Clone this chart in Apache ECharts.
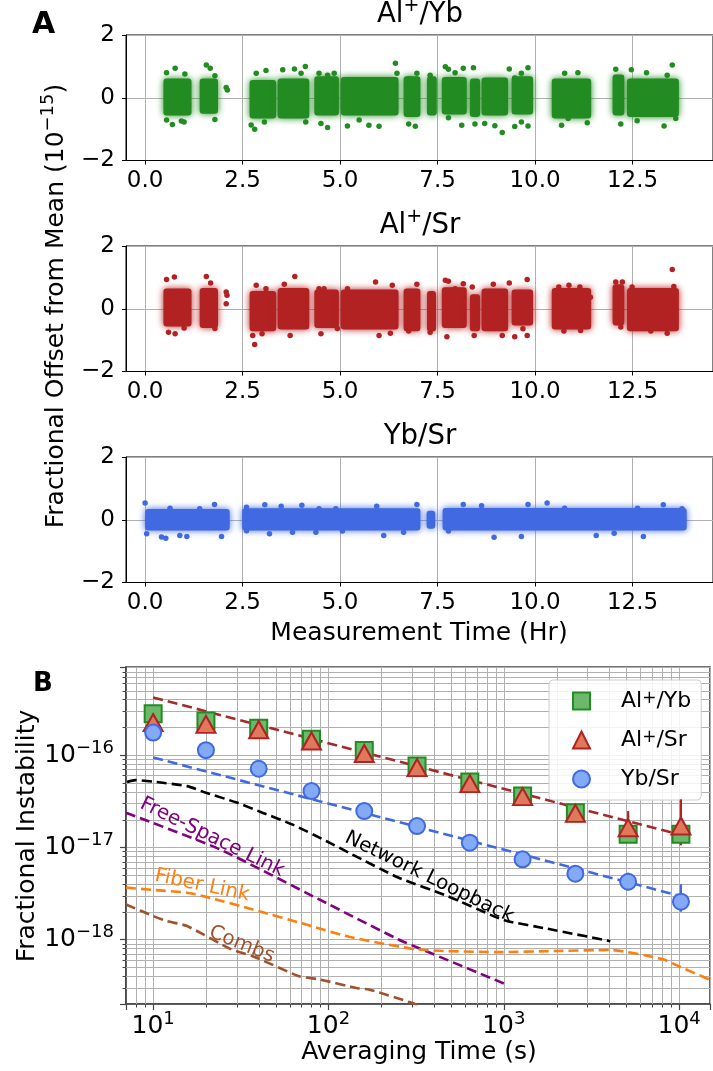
<!DOCTYPE html>
<html lang="en">
<head>
<meta charset="UTF-8">
<title>Clock ratio comparison</title>
<script src="https://cdn.jsdelivr.net/npm/echarts@6.0.0/dist/echarts.min.js"></script>
<style>
    html, body { margin: 0; padding: 0; background: #fff; }
    #main { width: 713px; height: 1071px; }
</style>
</head>
<body>
<div id="main"></div>
<script type="text/javascript">
    // ---------- panel A : ratio offsets vs time (units 1e-15, hours) ----------
    // dense part of each run: [start hr, end hr, low, high]
    var alYbRuns = [
        [0.47, 1.19, -0.5, 0.55], [1.40, 1.87, -0.45, 0.55], [2.68, 3.36, -0.6, 0.5],
        [3.40, 4.21, -0.6, 0.55], [4.34, 4.97, -0.5, 0.62], [5.02, 6.50, -0.5, 0.6],
        [6.63, 7.06, -0.55, 0.62], [7.23, 7.48, -0.5, 0.62], [7.61, 8.25, -0.47, 0.6],
        [8.33, 8.59, -0.55, 0.55], [8.63, 9.31, -0.5, 0.58], [9.40, 9.95, -0.47, 0.62],
        [10.43, 11.44, -0.6, 0.55], [11.99, 12.29, -0.5, 0.68], [12.36, 13.69, -0.55, 0.55]
    ];
    // scattered points outside the dense part: [hr, offset]
    var alYbPoints = [
        [0.55, 0.80], [0.77, 0.94], [1.02, 0.76], [0.55, -0.71], [0.70, -0.85], [0.93, -0.74], [1.0, -0.77],
        [1.57, 1.04], [1.67, 0.94], [1.79, 0.70], [1.79, -0.69], [2.08, 0.33], [2.11, 0.25],
        [2.72, -0.87], [2.81, -1.0], [2.85, 0.78], [3.1, 0.87], [3.53, 0.89], [3.83, 0.92], [4.11, 1.0],
        [4.0, 0.78], [4.46, 0.78], [4.68, 0.72], [4.85, 0.78], [4.51, -0.82], [4.68, -0.95], [5.19, -0.9],
        [4.12, -0.77], [3.06, -0.77], [6.42, 1.10], [6.46, 0.78], [6.0, -0.91], [5.74, -0.88], [5.49, -0.71],
        [6.76, 0.6], [6.97, 0.78], [6.76, -0.84], [6.93, -0.91], [7.31, 0.72], [7.70, 0.99], [7.78, 0.91],
        [7.95, 0.80], [8.16, 0.94], [8.42, 0.96], [8.12, -0.88], [7.78, -0.64], [8.46, -0.84], [8.71, -0.82],
        [8.97, -0.89], [9.16, -1.11], [9.34, 0.92], [9.48, 0.63], [9.65, 0.78], [9.82, 0.96], [9.48, -0.92],
        [9.65, -0.77], [9.82, -0.90], [10.76, 0.78], [11.1, 0.80], [10.68, -0.88], [10.85, -0.66], [11.34, -0.80],
        [12.07, 0.91], [12.47, 0.89], [12.86, 0.80], [13.52, 1.04], [12.20, -0.84], [12.62, -0.73], [13.31, -0.90],
        [13.61, -0.66], [13.39, 0.72]
    ];
    var alSrRuns = [
        [0.47, 1.19, -0.5, 0.58], [1.40, 1.87, -0.55, 0.6], [2.68, 3.36, -0.65, 0.5],
        [3.40, 4.21, -0.6, 0.6], [4.34, 4.97, -0.55, 0.55], [5.02, 6.50, -0.6, 0.55],
        [6.63, 7.06, -0.65, 0.58], [7.23, 7.46, -0.66, 0.5], [7.61, 8.25, -0.55, 0.62],
        [8.33, 8.59, -0.65, 0.4], [8.63, 9.31, -0.65, 0.58], [9.40, 9.95, -0.47, 0.55],
        [10.43, 11.44, -0.6, 0.6], [11.99, 12.29, -0.47, 0.72], [12.36, 13.69, -0.65, 0.6]
    ];
    var alSrPoints = [
        [0.55, 0.93], [0.75, 1.01], [0.6, -0.75], [0.77, -0.8], [1.0, -0.61], [1.57, 1.03], [1.68, 0.82],
        [1.79, -0.63], [2.08, 0.53], [2.1, 0.43], [2.08, 0.16], [2.76, -0.85], [2.81, -1.14], [3.0, -0.8],
        [2.85, 0.75], [3.1, 0.64], [3.57, 0.78], [3.84, 1.03], [3.72, -0.85], [4.46, 0.64], [4.59, 0.64],
        [4.51, -0.8], [4.93, -0.63], [5.19, 0.64], [5.91, 0.85], [6.34, 0.75], [6.97, 0.78], [6.0, -0.85],
        [6.29, -0.78], [6.76, -0.71], [7.31, -0.75], [7.70, 0.91], [7.78, 0.88], [7.95, 0.64], [8.16, 0.8],
        [8.39, 0.69], [8.93, 0.78], [9.34, 0.82], [9.80, 0.93], [7.74, -0.89], [8.44, -0.85], [9.16, -0.85],
        [9.48, -0.89], [9.80, -0.85], [9.69, -0.64], [10.61, 0.69], [10.87, 0.75], [11.15, 0.69], [11.42, 0.37],
        [10.74, -0.71], [11.17, -0.69], [12.07, 0.85], [12.24, 0.85], [12.49, 0.69], [13.52, 1.25], [13.56, 0.71],
        [13.39, -0.78], [12.97, -0.71], [12.2, -0.58]
    ];
    var ybSrRuns = [
        [0.0, 2.17, -0.28, 0.28], [2.49, 7.06, -0.28, 0.3], [7.22, 7.44, -0.22, 0.22], [7.63, 13.89, -0.28, 0.31]
    ];
    var ybSrPoints = [
        [0.0, 0.53], [0.04, -0.45], [0.42, -0.55], [0.53, -0.59], [0.89, -0.5], [1.07, -0.53], [1.78, 0.49],
        [1.96, -0.53], [0.64, 0.37], [1.4, 0.35], [2.6, 0.4], [3.07, 0.48], [3.49, 0.43], [4.02, 0.46],
        [4.46, 0.35], [4.89, 0.35], [2.6, -0.35], [3.19, -0.45], [3.78, -0.4], [4.38, -0.4], [5.06, -0.36],
        [5.94, 0.43], [6.97, 0.49], [6.12, -0.5], [6.63, -0.4], [8.95, -0.56], [8.16, 0.49], [8.63, 0.45],
        [9.82, 0.49], [10.31, 0.53], [11.57, -0.5], [12.03, -0.43], [12.78, -0.53], [13.29, 0.48], [13.77, 0.35],
        [7.78, -0.36], [9.65, -0.53], [10.76, 0.37], [12.63, 0.37]
    ];
    var timeTicks = [0, 2.5, 5, 7.5, 10, 12.5];

    // ---------- panel B : instability vs averaging time ----------
    var tauPts = [10, 20, 40, 80, 160, 320, 640, 1280, 2560, 5120, 10240];
    var alYbDev = [2.81e-16, 2.34e-16, 1.95e-16, 1.48e-16, 1.12e-16, 7.6e-17, 5.1e-17, 3.6e-17, 2.37e-17, 1.38e-17, 1.38e-17];
    var alSrDev = [2.25e-16, 2.15e-16, 1.88e-16, 1.42e-16, 1.04e-16, 7.3e-17, 4.9e-17, 3.54e-17, 2.33e-17, 1.63e-17, 1.7e-17];
    var ybSrDev = [1.75e-16, 1.13e-16, 7.1e-17, 4.07e-17, 2.47e-17, 1.7e-17, 1.12e-17, 7.4e-18, 5.17e-18, 4.23e-18, 2.57e-18];
    // error bars [tau, low, high]
    var alYbErr = [[10240, 1.07e-17, 1.8e-17]];
    var alSrErr = [[5120, 1.25e-17, 2.47e-17], [10240, 1.05e-17, 3.31e-17]];
    var ybSrErr = [[5120, 3.4e-18, 5.3e-18], [10240, 2.0e-18, 3.96e-18]];
    // white-noise fits
    var alFit = [[10, 4.2e-16], [10240, 1.36e-17]];
    var ybFit = [[10, 9.4e-17], [10240, 2.95e-18]];
    // reference noise curves
    var loopTau = [7.1, 7.9, 10, 15.6, 20, 30, 42, 62, 97, 136, 250, 480, 900, 1050, 1770, 4050];
    var loopDev = [5.1e-17, 5.35e-17, 5.15e-17, 4.6e-17, 3.9e-17, 3.05e-17, 2.37e-17, 1.77e-17, 1.17e-17, 8.4e-18, 4.7e-18, 2.95e-18, 1.75e-18, 1.58e-18, 1.31e-18, 9.6e-19];
    var freeTau = [7, 24, 88.5, 251, 326, 1000];
    var freeDev = [2.37e-17, 9.5e-18, 2.72e-18, 1.0e-18, 8.1e-19, 3.34e-19];
    var fiberTau = [7, 10, 15.6, 20, 37, 80, 131, 326, 925, 1930, 4050, 8100, 10000, 14800];
    var fiberDev = [3.65e-18, 3.45e-18, 3.22e-18, 2.9e-18, 2.12e-18, 1.4e-18, 1.07e-18, 7.8e-19, 7.3e-19, 7.5e-19, 7.7e-19, 6.1e-19, 5.1e-19, 3.7e-19];
    var combTau = [7, 10, 12, 15.6, 28, 37, 68, 88.5, 149, 170, 298, 330];
    var combDev = [2.4e-18, 1.8e-18, 1.58e-18, 1.4e-18, 7.8e-19, 6.6e-19, 4.0e-19, 3.7e-19, 2.95e-19, 2.88e-19, 2.06e-19, 1.9e-19];
    // curve names written along the curves: text, tau, value
    var noteText = ['Free-Space Link', 'Network Loopback', 'Fiber Link', 'Combs'];
    var noteTau = [21.7, 376, 19.0, 32.0];
    var noteDev = [1.28e-17, 4.72e-18, 3.86e-18, 8.85e-19];
    // minor grid values of the log axes
    var tauMinor = [8, 9, 20, 30, 40, 50, 60, 70, 80, 90, 200, 300, 400, 500, 600, 700, 800, 900,
        2000, 3000, 4000, 5000, 6000, 7000, 8000, 9000];
    var devMinor = [3e-19, 4e-19, 5e-19, 6e-19, 7e-19, 8e-19, 9e-19, 2e-18, 3e-18, 4e-18, 5e-18, 6e-18, 7e-18, 8e-18, 9e-18,
        2e-17, 3e-17, 4e-17, 5e-17, 6e-17, 7e-17, 8e-17, 9e-17, 2e-16, 3e-16, 4e-16, 5e-16, 6e-16, 7e-16, 8e-16];

    var FONT = 'DejaVu Sans';
    var GRID_GRAY = '#b0b0b0';
    var colors = {alYb: '#228b22', alSr: '#b22222', ybSr: '#4169e1'};

    function supRich(size) {
        return {sup: {fontSize: Math.round(size * 0.7), lineHeight: Math.round(size * 0.7), verticalAlign: 'top', fontFamily: FONT}};
    }
    function withSup(s) {
        return s.replace('+', '{sup|+}');
    }
    function powLabel(v) {
        var e = Math.log10(v), r = Math.round(e);
        if (Math.abs(e - r) > 1e-6) return '';
        return '10{sup|' + String(r).replace('-', '\u2212') + '}';
    }
    function pairs(xs, ys) {
        return xs.map(function (x, i) { return [x, ys[i]]; });
    }

    var topTops = [35, 246, 457];
    var grids = topTops.map(function (t) {
        return {left: 126, top: t, width: 590, height: 125.5, show: true, borderColor: '#000', borderWidth: 1};
    });
    grids.push({left: 126, top: 667, width: 590, height: 337, show: true, borderColor: '#444', borderWidth: 1.6});

    var xAxes = [], yAxes = [];
    for (var i = 0; i < 3; i++) {
        xAxes.push({
            gridIndex: i, type: 'value', min: -0.49, max: 14.565,
            axisLine: {show: true, onZero: false, lineStyle: {color: '#000', width: 1}},
            axisTick: {show: true, length: 4, lineStyle: {color: '#000'}, customValues: timeTicks},
            axisLabel: {customValues: timeTicks, formatter: function (v) { return v.toFixed(1); },
                fontSize: 23, color: '#000', fontFamily: FONT, margin: 9},
            splitLine: {show: true, lineStyle: {color: GRID_GRAY, width: 1}}
        });
        yAxes.push({
            gridIndex: i, type: 'value', min: -2, max: 2, interval: 2,
            axisLine: {show: true, onZero: false, lineStyle: {color: '#000', width: 1}},
            axisTick: {show: true, length: 4, lineStyle: {color: '#000'}},
            axisLabel: {formatter: function (v) { return v < 0 ? '\u2212' + Math.abs(v) : String(v); },
                fontSize: 23, color: '#000', fontFamily: FONT, margin: 11},
            splitLine: {show: true, lineStyle: {color: GRID_GRAY, width: 1}}
        });
    }
    xAxes.push({
        gridIndex: 3, type: 'log', logBase: 10, min: 7, max: 1.5e4,
        axisLine: {show: true, onZero: false, lineStyle: {color: '#444', width: 1.6}},
        axisTick: {show: true, length: 6, lineStyle: {color: '#444', width: 1.2}},
        axisLabel: {formatter: powLabel, fontSize: 25, lineHeight: 32, color: '#000', fontFamily: FONT, margin: 6, rich: supRich(25)},
        splitLine: {show: true, lineStyle: {color: GRID_GRAY, width: 1}}
    });
    yAxes.push({
        gridIndex: 3, type: 'log', logBase: 10, min: 2e-19, max: 9e-16,
        axisLine: {show: true, onZero: false, lineStyle: {color: '#444', width: 1.6}},
        axisTick: {show: true, length: 6, lineStyle: {color: '#444', width: 1.2}},
        axisLabel: {formatter: powLabel, fontSize: 25, lineHeight: 32, color: '#000', fontFamily: FONT, margin: 12, rich: supRich(25)},
        splitLine: {show: true, lineStyle: {color: GRID_GRAY, width: 1}}
    });

    // a run is drawn as a filled block with a soft edge, the loose points go on top
    function runSeries(idx, runs, color) {
        return {
            type: 'custom', xAxisIndex: idx, yAxisIndex: idx, z: 2, silent: true,
            data: runs, encode: {x: [0, 1], y: [2, 3]},
            renderItem: function (params, api) {
                var a = api.coord([api.value(0), api.value(3)]);
                var b = api.coord([api.value(1), api.value(2)]);
                return {type: 'rect', shape: {x: a[0], y: a[1] - 2, width: b[0] - a[0], height: b[1] - a[1] + 4, r: 3},
                    style: {fill: color, shadowBlur: 7, shadowColor: color}};
            }
        };
    }
    function pointSeries(idx, pts, color) {
        return {type: 'scatter', xAxisIndex: idx, yAxisIndex: idx, z: 3, silent: true,
            symbolSize: 5.5, data: pts, itemStyle: {color: color, opacity: 1}};
    }
    function errSeries(errs, color) {
        return {
            type: 'custom', xAxisIndex: 3, yAxisIndex: 3, z: 4, silent: true,
            data: errs, encode: {x: 0, y: [1, 2]},
            renderItem: function (params, api) {
                var a = api.coord([api.value(0), api.value(1)]);
                var b = api.coord([api.value(0), api.value(2)]);
                return {type: 'line', shape: {x1: a[0], y1: a[1], x2: b[0], y2: b[1]},
                    style: {stroke: color, lineWidth: 2.2}};
            }
        };
    }
    function dashLine(data, color, smooth) {
        return {type: 'line', xAxisIndex: 3, yAxisIndex: 3, z: 3, silent: true, data: data,
            symbol: 'none', smooth: smooth, lineStyle: {color: color, width: 2.6, type: [10, 5]}};
    }

    var noteRotate = [-26, -26, -12, -22];
    var noteColor = ['#800080', '#000000', '#ff7f0e', '#a0522d'];

    var series = [
        runSeries(0, alYbRuns, colors.alYb), pointSeries(0, alYbPoints, colors.alYb),
        runSeries(1, alSrRuns, colors.alSr), pointSeries(1, alSrPoints, colors.alSr),
        runSeries(2, ybSrRuns, colors.ybSr), pointSeries(2, ybSrPoints, colors.ybSr),
        // minor grid of panel B
        {
            type: 'custom', xAxisIndex: 3, yAxisIndex: 3, z: 1, silent: true,
            data: tauMinor.map(function (v) { return [v, 1e-17]; }),
            renderItem: function (params, api) {
                var cs = params.coordSys;
                var x = Math.round(api.coord([api.value(0), 1e-17])[0]) + 0.5;
                return {type: 'group', children: [
                    {type: 'line', shape: {x1: x, y1: cs.y, x2: x, y2: cs.y + cs.height}, style: {stroke: GRID_GRAY, lineWidth: 1}},
                    {type: 'line', shape: {x1: x, y1: cs.y + cs.height, x2: x, y2: cs.y + cs.height + 3.5}, style: {stroke: '#444', lineWidth: 1}}
                ]};
            }
        },
        {
            type: 'custom', xAxisIndex: 3, yAxisIndex: 3, z: 1, silent: true,
            data: devMinor.map(function (v) { return [100, v]; }),
            renderItem: function (params, api) {
                var cs = params.coordSys;
                var y = Math.round(api.coord([100, api.value(1)])[1]) + 0.5;
                return {type: 'group', children: [
                    {type: 'line', shape: {x1: cs.x, y1: y, x2: cs.x + cs.width, y2: y}, style: {stroke: GRID_GRAY, lineWidth: 1}},
                    {type: 'line', shape: {x1: cs.x - 3.5, y1: y, x2: cs.x, y2: y}, style: {stroke: '#444', lineWidth: 1}}
                ]};
            }
        },
        dashLine(pairs(loopTau, loopDev), '#000', 0.2),
        dashLine(pairs(freeTau, freeDev), '#800080', 0.2),
        dashLine(pairs(fiberTau, fiberDev), '#ff7f0e', 0.2),
        dashLine(pairs(combTau, combDev), '#a0522d', 0.2),
        dashLine(alFit, '#a52a2a', false),
        dashLine(ybFit, colors.ybSr, false),
        {
            name: 'Al+/Yb', type: 'scatter', xAxisIndex: 3, yAxisIndex: 3, z: 5, silent: true,
            symbol: 'rect', symbolSize: 17, data: pairs(tauPts, alYbDev),
            itemStyle: {color: '#6cb86c', borderColor: colors.alYb, borderWidth: 2, opacity: 1}
        },
        errSeries(alYbErr, colors.alYb),
        {
            name: 'Al+/Sr', type: 'scatter', xAxisIndex: 3, yAxisIndex: 3, z: 6, silent: true,
            symbol: 'triangle', symbolSize: [19, 17], data: pairs(tauPts, alSrDev),
            itemStyle: {color: '#e0785c', borderColor: colors.alSr, borderWidth: 2, opacity: 1}
        },
        errSeries(alSrErr, colors.alSr),
        {
            name: 'Yb/Sr', type: 'scatter', xAxisIndex: 3, yAxisIndex: 3, z: 7, silent: true,
            symbol: 'circle', symbolSize: 16, data: pairs(tauPts, ybSrDev),
            itemStyle: {color: '#82aaf7', borderColor: colors.ybSr, borderWidth: 2, opacity: 1}
        },
        errSeries(ybSrErr, colors.ybSr),
        // curve names as text placed on the axes
        {
            type: 'custom', xAxisIndex: 3, yAxisIndex: 3, z: 8, silent: true,
            data: noteText.map(function (t, i) { return [noteTau[i], noteDev[i]]; }),
            renderItem: function (params, api) {
                var p = api.coord([api.value(0), api.value(1)]);
                var k = params.dataIndex;
                return {type: 'text', x: p[0], y: p[1], rotation: noteRotate[k] * Math.PI / 180,
                    style: {text: noteText[k], fill: noteColor[k], fontSize: 20, fontFamily: FONT,
                        align: 'center', verticalAlign: 'middle'}};
            }
        }
    ];

    function txt(text, x, y, size, extra) {
        var el = {type: 'text', x: x, y: y, z: 10, silent: true,
            style: {text: text, fill: '#000', fontSize: size, fontFamily: FONT, lineHeight: Math.round(size * 1.3),
                align: 'center', verticalAlign: 'middle', rich: supRich(size)}};
        if (extra) {
            for (var k in extra) {
                if (k === 'style') { for (var s in extra.style) el.style[s] = extra.style[s]; }
                else el[k] = extra[k];
            }
        }
        return el;
    }

    var graphics = [
        txt('A', 43.5, 25, 30, {style: {fontWeight: 'bold'}}),
        txt('B', 43, 684, 26, {style: {fontWeight: 'bold'}}),
        txt(withSup('Al+/Yb'), 420, 15, 27.6),
        txt(withSup('Al+/Sr'), 420, 226, 27.6),
        txt('Yb/Sr', 420, 437, 27.6),
        txt('Fractional Offset from Mean (10{sup|\u221215})', 56, 306, 25, {rotation: Math.PI / 2}),
        txt('Measurement Time (Hr)', 419, 633, 25),
        txt('Fractional Instability', 27, 836, 25, {rotation: Math.PI / 2}),
        txt('Averaging Time (s)', 419, 1052, 25)
    ];

    var myChart = echarts.init(document.getElementById('main'), null, {renderer: 'canvas'});
    var option = {
        animation: false,
        backgroundColor: '#fff',
        textStyle: {fontFamily: FONT},
        grid: grids,
        xAxis: xAxes,
        yAxis: yAxes,
        legend: {
            data: ['Al+/Yb', 'Al+/Sr', 'Yb/Sr'],
            orient: 'vertical', left: 549, top: 680,
            itemWidth: 17, itemHeight: 17, itemGap: 17,
            padding: [10, 10, 10, 23],
            backgroundColor: 'rgba(255,255,255,0.85)', borderColor: '#cccccc', borderWidth: 1, borderRadius: 4,
            formatter: function (name) { return withSup(name); },
            textStyle: {fontSize: 22, color: '#000', fontFamily: FONT, padding: [0, 0, 0, 26], rich: supRich(24)},
            selectedMode: false
        },
        graphic: graphics,
        series: series
    };
    myChart.setOption(option);
</script>
</body>
</html>
